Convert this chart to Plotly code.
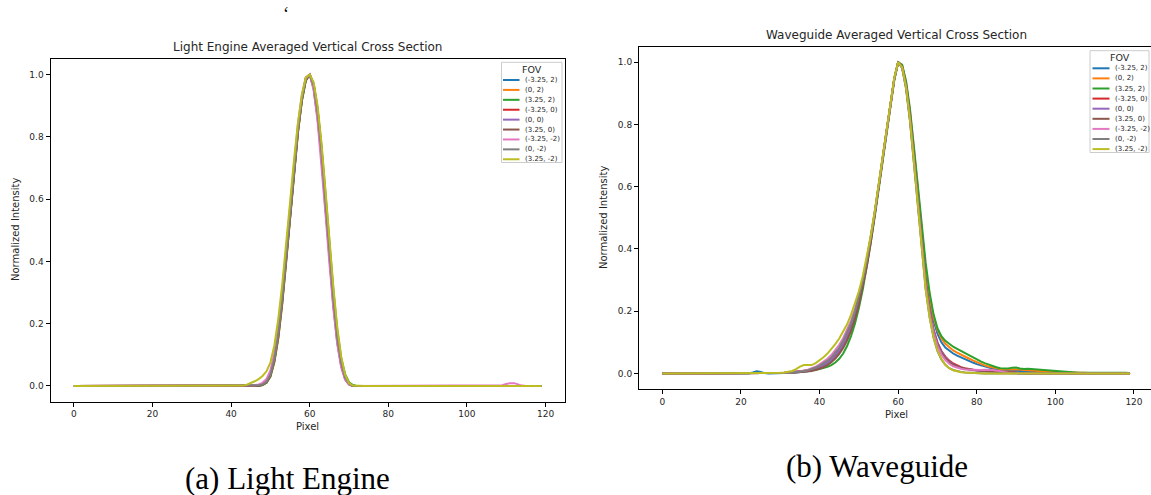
import plotly.graph_objects as go

W, H = 1151, 495

PIXELS = list(range(120))
FOV_LABELS = ["(-3.25, 2)", "(0, 2)", "(3.25, 2)", "(-3.25, 0)", "(0, 0)",
              "(3.25, 0)", "(-3.25, -2)", "(0, -2)", "(3.25, -2)"]
COLORS = ["#1f77b4", "#ff7f0e", "#2ca02c", "#d62728", "#9467bd",
          "#8c564b", "#e377c2", "#7f7f7f", "#bcbd22"]
X_TICKS = [0, 20, 40, 60, 80, 100, 120]
Y_TICKS = [0.0, 0.2, 0.4, 0.6, 0.8, 1.0]

# ---------------- Light Engine (a) ----------------
LE_M325_2 = [
    0, 0, 0, 0, 0, 0, 0, 0, 0, 0,
    0, 0, 0, 0, 0, 0, 0, 0, 0, 0,
    0, 0, 0, 0, 0, 0, 0, 0, 0, 0,
    0, 0, 0, 0, 0, 0, 0, 0, 0, 0,
    0, 0, 0, 0, 0, 0, 0, 0, 0.004, 0.012,
    0.035, 0.085, 0.165, 0.275, 0.41, 0.55, 0.69, 0.82, 0.92, 0.985,
    1.0, 0.96, 0.87, 0.74, 0.58, 0.42, 0.27, 0.15, 0.07, 0.025,
    0.006, 0, 0, 0, 0, 0, 0, 0, 0, 0,
    0, 0, 0, 0, 0, 0, 0, 0, 0, 0,
    0, 0, 0, 0, 0, 0, 0, 0, 0, 0,
    0, 0, 0, 0, 0, 0, 0, 0, 0, 0,
    0, 0, 0, 0, 0, 0, 0, 0, 0, 0]
LE_0_2 = [
    0, 0, 0, 0, 0, 0, 0, 0, 0, 0,
    0, 0, 0, 0, 0, 0, 0, 0, 0, 0,
    0, 0, 0, 0, 0, 0, 0, 0, 0, 0,
    0, 0, 0, 0, 0, 0, 0, 0, 0, 0,
    0, 0, 0, 0, 0, 0, 0, 0, 0.003, 0.01,
    0.03, 0.075, 0.15, 0.26, 0.395, 0.54, 0.68, 0.81, 0.915, 0.98,
    1.0, 0.97, 0.89, 0.76, 0.6, 0.44, 0.29, 0.165, 0.08, 0.03,
    0.008, 0, 0, 0, 0, 0, 0, 0, 0, 0,
    0, 0, 0, 0, 0, 0, 0, 0, 0, 0,
    0, 0, 0, 0, 0, 0, 0, 0, 0, 0,
    0, 0, 0, 0, 0, 0, 0, 0, 0, 0,
    0, 0, 0, 0, 0, 0, 0, 0, 0, 0]
LE_325_2 = [
    0, 0, 0, 0, 0, 0, 0, 0, 0, 0,
    0, 0, 0, 0, 0, 0, 0, 0, 0, 0,
    0, 0, 0, 0, 0, 0, 0, 0, 0, 0,
    0, 0, 0, 0, 0, 0, 0, 0, 0, 0,
    0, 0, 0, 0, 0, 0, 0, 0, 0.003, 0.01,
    0.03, 0.078, 0.155, 0.265, 0.4, 0.545, 0.685, 0.815, 0.915, 0.98,
    1.0, 0.97, 0.89, 0.77, 0.62, 0.46, 0.31, 0.18, 0.09, 0.038,
    0.012, 0.003, 0, 0, 0, 0, 0, 0, 0, 0,
    0, 0, 0, 0, 0, 0, 0, 0, 0, 0,
    0, 0, 0, 0, 0, 0, 0, 0, 0, 0,
    0, 0, 0, 0, 0, 0, 0, 0, 0, 0,
    0, 0, 0, 0, 0, 0, 0, 0, 0, 0]
LE_M325_0 = [
    0, 0, 0, 0, 0, 0, 0, 0, 0, 0,
    0, 0, 0, 0, 0, 0, 0, 0, 0, 0,
    0, 0, 0, 0, 0, 0, 0, 0, 0, 0,
    0, 0, 0, 0, 0, 0, 0, 0, 0, 0,
    0, 0, 0, 0, 0, 0, 0, 0.002, 0.006, 0.016,
    0.04, 0.09, 0.17, 0.28, 0.415, 0.555, 0.695, 0.825, 0.925, 0.99,
    1.0, 0.955, 0.86, 0.73, 0.57, 0.41, 0.26, 0.14, 0.065, 0.022,
    0.005, 0, 0, 0, 0, 0, 0, 0, 0, 0,
    0, 0, 0, 0, 0, 0, 0, 0, 0, 0,
    0, 0, 0, 0, 0, 0, 0, 0, 0, 0,
    0, 0, 0, 0, 0, 0, 0, 0, 0, 0,
    0, 0, 0, 0, 0, 0, 0, 0, 0, 0]
LE_0_0 = [
    0, 0, 0, 0, 0, 0, 0, 0, 0, 0,
    0, 0, 0, 0, 0, 0, 0, 0, 0, 0,
    0, 0, 0, 0, 0, 0, 0, 0, 0, 0,
    0, 0, 0, 0, 0, 0, 0, 0, 0, 0,
    0, 0, 0, 0, 0, 0, 0, 0.002, 0.005, 0.014,
    0.037, 0.088, 0.168, 0.278, 0.412, 0.552, 0.692, 0.822, 0.922, 0.987,
    1.0, 0.962, 0.872, 0.745, 0.585, 0.425, 0.275, 0.152, 0.072, 0.026,
    0.006, 0, 0, 0, 0, 0, 0, 0, 0, 0,
    0, 0, 0, 0, 0, 0, 0, 0, 0, 0,
    0, 0, 0, 0, 0, 0, 0, 0, 0, 0,
    0, 0, 0, 0, 0, 0, 0, 0, 0, 0,
    0, 0, 0, 0, 0, 0, 0, 0, 0, 0]
LE_325_0 = [
    0, 0, 0, 0, 0, 0, 0, 0, 0, 0,
    0, 0, 0, 0, 0, 0, 0, 0, 0, 0,
    0, 0, 0, 0, 0, 0, 0, 0, 0, 0,
    0, 0, 0, 0, 0, 0, 0, 0, 0, 0,
    0, 0, 0, 0, 0, 0, 0, 0, 0.004, 0.011,
    0.032, 0.08, 0.158, 0.268, 0.402, 0.545, 0.685, 0.815, 0.918, 0.982,
    1.0, 0.968, 0.885, 0.76, 0.6, 0.44, 0.29, 0.162, 0.078, 0.03,
    0.008, 0, 0, 0, 0, 0, 0, 0, 0, 0,
    0, 0, 0, 0, 0, 0, 0, 0, 0, 0,
    0, 0, 0, 0, 0, 0, 0, 0, 0, 0,
    0, 0, 0, 0, 0, 0, 0, 0, 0, 0,
    0, 0, 0, 0, 0, 0, 0, 0, 0, 0]
LE_M325_M2 = [
    0, 0, 0, 0, 0, 0, 0, 0, 0, 0,
    0, 0, 0, 0, 0, 0, 0, 0, 0, 0,
    0, 0, 0, 0, 0, 0, 0, 0, 0, 0,
    0, 0, 0, 0, 0, 0, 0, 0, 0, 0,
    0, 0, 0, 0, 0, 0, 0.002, 0.005, 0.01, 0.022,
    0.05, 0.105, 0.19, 0.305, 0.44, 0.58, 0.715, 0.84, 0.935, 0.99,
    1.0, 0.95, 0.85, 0.715, 0.555, 0.395, 0.25, 0.135, 0.06, 0.02,
    0.004, 0, 0, 0, 0, 0, 0, 0, 0, 0,
    0, 0, 0, 0, 0, 0, 0, 0, 0, 0,
    0, 0, 0, 0, 0, 0, 0, 0, 0, 0,
    0, 0, 0, 0, 0, 0, 0, 0, 0, 0.002,
    0.006, 0.009, 0.009, 0.005, 0.001, 0, 0, 0, 0, 0]
LE_0_M2 = [
    0, 0, 0, 0, 0, 0, 0, 0, 0, 0,
    0, 0, 0, 0, 0, 0, 0, 0, 0, 0,
    0, 0, 0, 0, 0, 0, 0, 0, 0, 0,
    0, 0, 0, 0, 0, 0, 0, 0, 0, 0,
    0, 0, 0, 0, 0, 0, 0, 0.002, 0.005, 0.013,
    0.036, 0.086, 0.166, 0.276, 0.41, 0.55, 0.69, 0.82, 0.92, 0.985,
    1.0, 0.965, 0.878, 0.752, 0.592, 0.432, 0.28, 0.156, 0.074, 0.027,
    0.007, 0, 0, 0, 0, 0, 0, 0, 0, 0,
    0, 0, 0, 0, 0, 0, 0, 0, 0, 0,
    0, 0, 0, 0, 0, 0, 0, 0, 0, 0,
    0, 0, 0, 0, 0, 0, 0, 0, 0, 0,
    0, 0, 0, 0, 0, 0, 0, 0, 0, 0]
LE_325_M2 = [
    0, 0, 0, 0, 0, 0, 0, 0, 0, 0,
    0, 0, 0, 0, 0, 0, 0, 0, 0, 0,
    0, 0, 0, 0, 0, 0, 0, 0, 0, 0,
    0, 0, 0, 0, 0, 0, 0, 0, 0, 0,
    0, 0, 0, 0.001, 0.004, 0.009, 0.015, 0.022, 0.032, 0.047,
    0.075, 0.13, 0.215, 0.325, 0.45, 0.59, 0.725, 0.845, 0.935, 0.99,
    1.0, 0.975, 0.9, 0.78, 0.63, 0.47, 0.32, 0.19, 0.095, 0.036,
    0.009, 0.001, 0, 0, 0, 0, 0, 0, 0, 0,
    0, 0, 0, 0, 0, 0, 0, 0, 0, 0,
    0, 0, 0, 0, 0, 0, 0, 0, 0, 0,
    0, 0, 0, 0, 0, 0, 0, 0, 0, 0,
    0, 0, 0, 0, 0, 0, 0, 0, 0, 0]

# ---------------- Waveguide (b) ----------------
WG_M325_2 = [
    0, 0, 0, 0, 0, 0, 0, 0, 0, 0,
    0, 0, 0, 0, 0, 0, 0, 0, 0, 0,
    0, 0, 0, 0.003, 0.007, 0.005, 0.001, 0, 0, 0,
    0.001, 0.001, 0.002, 0.002, 0.003, 0.004, 0.005, 0.007, 0.01, 0.013,
    0.018, 0.024, 0.032, 0.042, 0.055, 0.071, 0.091, 0.116, 0.147, 0.185,
    0.231, 0.286, 0.351, 0.426, 0.507, 0.596, 0.687, 0.777, 0.865, 0.945,
    1.0, 0.988, 0.93, 0.835, 0.71, 0.575, 0.44, 0.325, 0.235, 0.17,
    0.128, 0.1, 0.083, 0.072, 0.064, 0.057, 0.051, 0.045, 0.04, 0.035,
    0.03, 0.026, 0.022, 0.019, 0.016, 0.014, 0.012, 0.011, 0.01, 0.009,
    0.008, 0.007, 0.006, 0.006, 0.005, 0.004, 0.004, 0.003, 0.003, 0.002,
    0.002, 0.002, 0.001, 0.001, 0.001, 0, 0, 0, 0, 0,
    0, 0, 0.001, 0.002, 0.001, 0, 0, 0, 0, 0.001]
WG_0_2 = [
    0, 0, 0, 0, 0, 0, 0, 0, 0, 0,
    0, 0, 0, 0, 0, 0, 0, 0, 0, 0,
    0, 0, 0, 0, 0, 0, 0, 0.001, 0.001, 0.001,
    0.001, 0.002, 0.002, 0.003, 0.004, 0.005, 0.007, 0.009, 0.012, 0.016,
    0.021, 0.027, 0.035, 0.045, 0.058, 0.074, 0.094, 0.119, 0.15, 0.188,
    0.234, 0.289, 0.354, 0.429, 0.51, 0.599, 0.69, 0.78, 0.868, 0.948,
    1.0, 0.99, 0.935, 0.842, 0.72, 0.585, 0.45, 0.335, 0.245, 0.18,
    0.14, 0.113, 0.095, 0.083, 0.074, 0.067, 0.06, 0.054, 0.048, 0.042,
    0.036, 0.031, 0.026, 0.022, 0.019, 0.016, 0.014, 0.013, 0.013, 0.014,
    0.015, 0.013, 0.011, 0.01, 0.009, 0.008, 0.007, 0.006, 0.006, 0.005,
    0.005, 0.004, 0.004, 0.003, 0.003, 0.002, 0.002, 0.002, 0.001, 0.001,
    0.001, 0.001, 0.001, 0.001, 0.001, 0, 0, 0, 0, 0]
WG_325_2 = [
    0, 0, 0, 0, 0, 0, 0, 0, 0, 0,
    0, 0, 0, 0, 0, 0, 0, 0, 0, 0,
    0, 0, 0, 0, 0, 0, 0, 0, 0.001, 0.001,
    0.001, 0.002, 0.003, 0.004, 0.006, 0.008, 0.009, 0.01, 0.011, 0.012,
    0.014, 0.017, 0.021, 0.027, 0.035, 0.047, 0.064, 0.088, 0.12, 0.16,
    0.21, 0.27, 0.34, 0.418, 0.5, 0.59, 0.682, 0.773, 0.862, 0.942,
    1.0, 0.992, 0.94, 0.85, 0.73, 0.6, 0.47, 0.355, 0.26, 0.19,
    0.145, 0.12, 0.105, 0.094, 0.086, 0.079, 0.072, 0.066, 0.059, 0.052,
    0.045, 0.039, 0.033, 0.028, 0.024, 0.02, 0.017, 0.016, 0.016, 0.018,
    0.019, 0.016, 0.014, 0.015, 0.014, 0.012, 0.01, 0.009, 0.008, 0.007,
    0.006, 0.005, 0.004, 0.004, 0.003, 0.003, 0.002, 0.002, 0.002, 0.002,
    0.002, 0.003, 0.004, 0.004, 0.003, 0.002, 0.002, 0.002, 0.002, 0.001]
WG_M325_0 = [
    0, 0, 0, 0, 0, 0, 0, 0, 0, 0,
    0, 0, 0, 0, 0, 0, 0, 0, 0, 0,
    0, 0, 0, 0, 0, 0, 0, 0, 0, 0.001,
    0.001, 0.002, 0.003, 0.004, 0.005, 0.006, 0.008, 0.01, 0.013, 0.017,
    0.022, 0.028, 0.036, 0.046, 0.059, 0.075, 0.095, 0.12, 0.15, 0.188,
    0.234, 0.289, 0.354, 0.429, 0.51, 0.598, 0.689, 0.779, 0.867, 0.947,
    1.0, 0.984, 0.922, 0.82, 0.69, 0.55, 0.41, 0.292, 0.203, 0.14,
    0.099, 0.072, 0.054, 0.041, 0.032, 0.025, 0.02, 0.017, 0.014, 0.012,
    0.011, 0.01, 0.009, 0.008, 0.007, 0.006, 0.005, 0.004, 0.003, 0.002,
    0.002, 0.001, 0.001, 0, 0, 0, 0, 0, 0, 0,
    0, 0, 0, 0, 0, 0, 0, 0, 0, 0,
    0, 0, 0, 0, 0, 0, 0, 0, 0, 0]
WG_0_0 = [
    0, 0, 0, 0, 0, 0, 0, 0, 0, 0,
    0, 0, 0, 0, 0, 0, 0, 0, 0, 0,
    0, 0, 0, 0, 0, 0, 0, 0, 0, 0.001,
    0.001, 0.002, 0.002, 0.003, 0.004, 0.005, 0.006, 0.008, 0.011, 0.015,
    0.02, 0.026, 0.034, 0.044, 0.057, 0.073, 0.093, 0.118, 0.148, 0.186,
    0.232, 0.287, 0.352, 0.427, 0.508, 0.597, 0.688, 0.778, 0.866, 0.946,
    1.0, 0.985, 0.925, 0.825, 0.695, 0.555, 0.415, 0.295, 0.205, 0.14,
    0.098, 0.07, 0.051, 0.038, 0.029, 0.023, 0.018, 0.015, 0.012, 0.01,
    0.009, 0.008, 0.007, 0.006, 0.005, 0.004, 0.003, 0.003, 0.002, 0.002,
    0.001, 0, 0, 0, 0, 0, 0, 0, 0, 0,
    0, 0, 0, 0, 0, 0, 0, 0, 0, 0,
    0, 0, 0, 0, 0, 0, 0, 0, 0, 0]
WG_325_0 = [
    0, 0, 0, 0, 0, 0, 0, 0, 0, 0,
    0, 0, 0, 0, 0, 0, 0, 0, 0, 0,
    0, 0, 0, 0, 0, 0, 0, 0, 0, 0,
    0.001, 0.001, 0.002, 0.002, 0.003, 0.004, 0.005, 0.006, 0.008, 0.011,
    0.015, 0.02, 0.027, 0.036, 0.048, 0.063, 0.082, 0.106, 0.137, 0.175,
    0.221, 0.277, 0.343, 0.419, 0.502, 0.592, 0.684, 0.775, 0.864, 0.945,
    1.0, 0.986, 0.926, 0.826, 0.695, 0.553, 0.412, 0.292, 0.2, 0.135,
    0.093, 0.066, 0.048, 0.036, 0.028, 0.022, 0.018, 0.015, 0.013, 0.011,
    0.01, 0.009, 0.008, 0.007, 0.006, 0.005, 0.004, 0.003, 0.002, 0.002,
    0.001, 0, 0, 0, 0, 0, 0, 0, 0, 0,
    0, 0, 0, 0, 0, 0, 0, 0, 0, 0,
    0, 0, 0, 0, 0, 0, 0, 0, 0, 0]
WG_M325_M2 = [
    0, 0, 0, 0, 0, 0, 0, 0, 0, 0,
    0, 0, 0, 0, 0, 0, 0, 0, 0, 0,
    0, 0, 0, 0, 0, 0, 0, 0, 0, 0.001,
    0.001, 0.002, 0.003, 0.004, 0.005, 0.007, 0.009, 0.012, 0.016, 0.022,
    0.029, 0.037, 0.047, 0.059, 0.074, 0.092, 0.113, 0.139, 0.17, 0.207,
    0.251, 0.303, 0.365, 0.437, 0.516, 0.603, 0.692, 0.781, 0.868, 0.947,
    1.0, 0.983, 0.918, 0.815, 0.683, 0.541, 0.4, 0.282, 0.193, 0.13,
    0.088, 0.061, 0.043, 0.031, 0.023, 0.018, 0.015, 0.013, 0.012, 0.011,
    0.011, 0.011, 0.012, 0.012, 0.011, 0.009, 0.006, 0.004, 0.002, 0.001,
    0, 0, 0, 0, 0, 0, 0, 0, 0, 0,
    0, 0, 0, 0, 0, 0, 0, 0, 0, 0,
    0, 0, 0, 0, 0, 0, 0, 0, 0, 0]
WG_0_M2 = [
    0, 0, 0, 0, 0, 0, 0, 0, 0, 0,
    0, 0, 0, 0, 0, 0, 0, 0, 0, 0,
    0, 0, 0, 0, 0, 0, 0, 0, 0, 0.001,
    0.001, 0.002, 0.002, 0.003, 0.004, 0.006, 0.008, 0.01, 0.014, 0.019,
    0.025, 0.032, 0.041, 0.052, 0.066, 0.083, 0.104, 0.13, 0.161, 0.199,
    0.245, 0.299, 0.362, 0.435, 0.515, 0.602, 0.692, 0.781, 0.868, 0.947,
    1.0, 0.982, 0.915, 0.81, 0.675, 0.532, 0.39, 0.27, 0.18, 0.115,
    0.072, 0.045, 0.028, 0.017, 0.011, 0.007, 0.005, 0.003, 0.002, 0.002,
    0.001, 0.001, 0, 0, 0, 0, 0, 0, 0, 0,
    0, 0, 0, 0, 0, 0, 0, 0, 0, 0,
    0, 0, 0, 0, 0, 0, 0, 0, 0, 0,
    0, 0, 0, 0, 0, 0, 0, 0, 0, 0]
WG_325_M2 = [
    0, 0, 0, 0, 0, 0, 0, 0, 0, 0,
    0, 0, 0, 0, 0, 0, 0, 0, 0, 0,
    0, 0, 0, 0, 0, 0, 0, 0, 0, 0.001,
    0.002, 0.003, 0.005, 0.008, 0.014, 0.022, 0.027, 0.026, 0.027, 0.033,
    0.042, 0.052, 0.064, 0.078, 0.094, 0.112, 0.133, 0.158, 0.188, 0.223,
    0.264, 0.313, 0.372, 0.441, 0.519, 0.605, 0.694, 0.783, 0.87, 0.95,
    1.0, 0.984, 0.92, 0.815, 0.68, 0.535, 0.392, 0.27, 0.18, 0.116,
    0.073, 0.046, 0.028, 0.017, 0.01, 0.006, 0.004, 0.003, 0.002, 0.002,
    0.001, 0.001, 0, 0, 0, 0, 0, 0, 0, 0,
    0, 0, 0, 0, 0, 0, 0, 0, 0, 0,
    0, 0, 0, 0, 0, 0, 0, 0, 0, 0,
    0, 0, 0, 0, 0, 0, 0, 0, 0, 0]

LE_SERIES = [LE_M325_2, LE_0_2, LE_325_2, LE_M325_0, LE_0_0, LE_325_0,
             LE_M325_M2, LE_0_M2, LE_325_M2]
WG_SERIES = [WG_M325_2, WG_0_2, WG_325_2, WG_M325_0, WG_0_0, WG_325_0,
             WG_M325_M2, WG_0_M2, WG_325_M2]

FONT = "DejaVu Sans"
SERIF = "Liberation Serif"
TXT = "#262626"


def px(x):
    return x / W


def py(y):
    return 1 - y / H


fig = go.Figure()
for lbl, col, ys in zip(FOV_LABELS, COLORS, LE_SERIES):
    fig.add_trace(go.Scatter(x=PIXELS[:len(ys)], y=ys, mode="lines", name=lbl,
                             line=dict(color=col, width=2),
                             xaxis="x", yaxis="y", showlegend=False,
                             hoverinfo="x+y+name"))
for lbl, col, ys in zip(FOV_LABELS, COLORS, WG_SERIES):
    fig.add_trace(go.Scatter(x=PIXELS[:len(ys)], y=ys, mode="lines", name=lbl,
                             line=dict(color=col, width=2),
                             xaxis="x2", yaxis="y2", showlegend=False,
                             hoverinfo="x+y+name"))

axis_common = dict(showgrid=False, zeroline=False, showline=True,
                   linecolor="black", linewidth=1, ticks="outside",
                   ticklen=4, tickwidth=1, tickcolor="black",
                   tickfont=dict(family=FONT, size=9, color=TXT))

# pixel geometry of the two axes boxes
L_BOX = dict(x0=50.5, x1=565, y0=59, y1=401.5)
R_BOX = dict(x0=639, x1=1151, y0=46.7, y1=389)

fig.update_layout(
    width=W, height=H, autosize=False,
    margin=dict(l=0, r=0, t=0, b=0),
    paper_bgcolor="white", plot_bgcolor="white",
    xaxis=dict(domain=[px(L_BOX["x0"]), px(L_BOX["x1"])], range=[-5.95, 124.95],
               tickvals=X_TICKS, mirror=True, anchor="y", **axis_common),
    yaxis=dict(domain=[py(L_BOX["y1"]), py(L_BOX["y0"])], range=[-0.05, 1.05],
               tickvals=Y_TICKS, tickformat=".1f", mirror=True, anchor="x",
               **axis_common),
    xaxis2=dict(domain=[px(R_BOX["x0"]), px(R_BOX["x1"])],
                range=[-5.95, -5.95 + (R_BOX["x1"] - R_BOX["x0"]) / 3.93],
                tickvals=X_TICKS, mirror=True, anchor="y2", **axis_common),
    yaxis2=dict(domain=[py(R_BOX["y1"]), py(R_BOX["y0"])], range=[-0.05, 1.05],
                tickvals=Y_TICKS, tickformat=".1f", mirror=False, anchor="x2",
                **axis_common),
)

ann = []
shapes = []


def text(x, y, s, size, family=FONT, color=TXT, xanchor="center", angle=0):
    ann.append(dict(x=px(x), y=py(y), xref="paper", yref="paper", text=s,
                    showarrow=False, xanchor=xanchor, yanchor="middle",
                    textangle=angle, font=dict(family=family, size=size,
                                               color=color)))


# titles and axis labels
text(307.5, 47, "Light Engine Averaged Vertical Cross Section", 12)
text(896, 35, "Waveguide Averaged Vertical Cross Section", 12)
text(307.5, 426, "Pixel", 10)
text(896, 414, "Pixel", 10)
text(15, 230, "Normalized Intensity", 10, angle=-90)
text(604, 218, "Normalized Intensity", 10, angle=-90)

# captions
text(287, 478, "(a) Light Engine", 31, family=SERIF, color="black")
text(877, 466, "(b) Waveguide", 31, family=SERIF, color="black")
text(286, 14, "‘", 18, family=SERIF, color="black")


def legend(box, title_xy, first_y, step, line_x0, line_x1, text_x):
    shapes.append(dict(type="rect", xref="paper", yref="paper",
                       x0=px(box[0]), x1=px(box[1]), y0=py(box[3]), y1=py(box[2]),
                       line=dict(color="#cccccc", width=1),
                       fillcolor="rgba(255,255,255,0.8)", layer="above"))
    text(title_xy[0], title_xy[1], "FOV", 9.5)
    for i, (lbl, col) in enumerate(zip(FOV_LABELS, COLORS)):
        yy = first_y + i * step
        shapes.append(dict(type="line", xref="paper", yref="paper",
                           x0=px(line_x0), x1=px(line_x1), y0=py(yy), y1=py(yy),
                           line=dict(color=col, width=2), layer="above"))
        text(text_x, yy, lbl, 7, xanchor="left")


legend((501.5, 562, 62.3, 162.5), (532, 69), 80, 9.91, 503, 519.5, 523)
legend((1090, 1149, 50.7, 152.5), (1120, 57.7), 68.3, 10.1, 1092.5, 1109.5, 1113)

fig.update_layout(annotations=ann, shapes=shapes)
fig.write_html("out.html")
